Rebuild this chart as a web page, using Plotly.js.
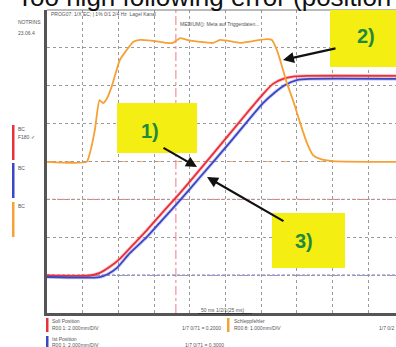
<!DOCTYPE html>
<html><head><meta charset="utf-8">
<script src="https://cdn.plot.ly/plotly-3.0.1.min.js"></script>
<style>html,body{margin:0;padding:0;background:#fff;}#chart{width:396px;height:347px;}</style>
</head><body><div id="chart"></div>
<script>
// ---- data (time and amplitude in scope divisions) ----
const followErrTime = [0, 1.11, 1.20, 1.34, 1.47, 1.57, 1.67, 1.81, 2.04, 2.23, 2.42, 2.61, 3.17, 3.36, 3.52, 3.73, 3.92, 4.29, 4.65, 4.85, 5.22, 5.41, 5.77, 6.16, 6.30, 6.44, 6.53, 6.72, 6.89, 7.09, 7.28, 7.45, 7.65, 8.01, 9.78];
const followErrVal  = [3.99, 3.99, 4.22, 4.83, 5.62, 5.54, 5.65, 5.97, 6.68, 6.94, 7.16, 7.21, 7.16, 7.13, 7.13, 7.26, 7.21, 7.16, 7.13, 7.21, 7.16, 7.13, 7.18, 7.23, 7.21, 6.94, 6.68, 6.07, 5.62, 5.02, 4.49, 4.17, 4.07, 4.01, 3.99];

const setPosTime = [0, 1.20, 1.48, 1.76, 2.04, 2.41, 2.80, 3.25, 3.73, 4.65, 5.60, 6.05, 6.33, 6.61, 6.89, 7.28, 9.78];
const setPosVal  = [0.99, 0.99, 1.06, 1.22, 1.43, 1.80, 2.19, 2.67, 3.17, 4.20, 5.28, 5.78, 6.05, 6.18, 6.24, 6.26, 6.26];

const actPosTime = [0, 1.48, 1.71, 1.96, 2.32, 2.80, 3.25, 3.73, 4.29, 5.13, 6.05, 6.39, 6.67, 7.00, 7.37, 9.78];
const actPosVal  = [0.95, 0.95, 1.03, 1.19, 1.58, 2.01, 2.48, 2.98, 3.59, 4.51, 5.54, 5.83, 6.02, 6.15, 6.18, 6.18];

const triggerTime = 3.61;
const refLevels = {setPos: 3, actPos: 1, followErr: 4};

const titleText = "Too high following error (position control)";
const calloutLabels = ["1)", "2)", "3)"];
const legendNames = ["Soll Position", "Ist Position", "Schleppfehler"];
const legendScales = ["R00 1: 2.000mm/DIV", "R00 1: 2.000mm/DIV", "R00 8: 1.000mm/DIV"];
const legendValues = ["1/7 0/71 = 0.2000", "1/7 0/71 = 0.3000", "1/7 0/2"];

// ---- layout helpers ----
const W = 396, H = 347, L = 47, T = 10, B = 34;
const PW = W - L, PH = H - T - B;
const px = x => (x - L) / PW;
const py = y => (H - B - y) / PH;

const RED = '#e8303a', BLUE = '#3a46c4', ORANGE = '#f7a035', YEL = '#f4ee12', GREEN = '#1d8a3e';

const traces = [
  {x: setPosTime, y: setPosVal, mode: 'lines', line: {color: 'rgba(240,120,130,0.35)', width: 3.6, shape: 'spline', smoothing: 0.6}, hoverinfo: 'skip'},
  {x: actPosTime, y: actPosVal, mode: 'lines', line: {color: 'rgba(120,130,220,0.35)', width: 3.6, shape: 'spline', smoothing: 0.6}, hoverinfo: 'skip'},
  {x: setPosTime, y: setPosVal, mode: 'lines', name: legendNames[0], line: {color: RED, width: 1.8, shape: 'spline', smoothing: 0.6}},
  {x: actPosTime, y: actPosVal, mode: 'lines', name: legendNames[1], line: {color: BLUE, width: 1.8, shape: 'spline', smoothing: 0.6}},
  {x: followErrTime, y: followErrVal, mode: 'lines', name: legendNames[2], line: {color: ORANGE, width: 1.8, shape: 'spline', smoothing: 0.5}}
];

const shapes = [
  // reference lines
  {type: 'line', xref: 'x', yref: 'paper', x0: triggerTime, x1: triggerTime, y0: 0, y1: 1, layer: 'between', line: {color: '#f07a80', width: 1, dash: 'dashdot'}},
  {type: 'line', xref: 'paper', yref: 'y', x0: 0, x1: 1, y0: refLevels.setPos, y1: refLevels.setPos, layer: 'between', line: {color: '#f08a90', width: 1.2, dash: '3px,2px'}},
  {type: 'line', xref: 'paper', yref: 'y', x0: 0, x1: 1, y0: refLevels.actPos, y1: refLevels.actPos, layer: 'between', line: {color: '#7a7ad8', width: 1.2, dash: '3px,2px'}},
  {type: 'line', xref: 'paper', yref: 'y', x0: 0, x1: 1, y0: refLevels.followErr, y1: refLevels.followErr, layer: 'between', line: {color: '#f7b070', width: 1, dash: 'dashdot'}},
  // frame
  {type: 'line', xref: 'paper', yref: 'paper', x0: 0, x1: 1, y0: 1, y1: 1, layer: 'above', line: {color: '#777', width: 1}},
  // callout boxes
  {type: 'rect', xref: 'paper', yref: 'paper', x0: px(117), x1: px(197), y0: py(153), y1: py(103), fillcolor: YEL, line: {width: 0}, layer: 'above'},
  {type: 'rect', xref: 'paper', yref: 'paper', x0: px(330), x1: px(400), y0: py(67), y1: py(10), fillcolor: YEL, line: {width: 0}, layer: 'above'},
  {type: 'rect', xref: 'paper', yref: 'paper', x0: px(272), x1: px(345), y0: py(268), y1: py(213), fillcolor: YEL, line: {width: 0}, layer: 'above'},
  // channel markers on the left
  {type: 'rect', xref: 'paper', yref: 'paper', x0: px(12), x1: px(14.5), y0: py(160), y1: py(125), fillcolor: RED, line: {width: 0}},
  {type: 'rect', xref: 'paper', yref: 'paper', x0: px(12), x1: px(14.5), y0: py(198), y1: py(163), fillcolor: BLUE, line: {width: 0}},
  {type: 'rect', xref: 'paper', yref: 'paper', x0: px(12), x1: px(14.5), y0: py(237), y1: py(202), fillcolor: ORANGE, line: {width: 0}},
  // legend markers at the bottom
  {type: 'rect', xref: 'paper', yref: 'paper', x0: px(46), x1: px(48.5), y0: py(332), y1: py(318), fillcolor: RED, line: {width: 0}},
  {type: 'rect', xref: 'paper', yref: 'paper', x0: px(46), x1: px(48.5), y0: py(349), y1: py(336), fillcolor: BLUE, line: {width: 0}},
  {type: 'rect', xref: 'paper', yref: 'paper', x0: px(227), x1: px(229.5), y0: py(332), y1: py(318), fillcolor: ORANGE, line: {width: 0}},
  // underline of time-base label
  {type: 'line', xref: 'paper', yref: 'paper', x0: px(198), x1: px(252), y0: py(313.5), y1: py(313.5), line: {color: '#333', width: 1}}
];

const tiny = (text, x, y, extra) => Object.assign({text: text, xref: 'paper', yref: 'paper', x: px(x), y: py(y), xanchor: 'left', yanchor: 'middle', showarrow: false, font: {family: 'Liberation Sans, Arial', size: 5, color: '#555'}}, extra || {});
const callout = (text, x, y) => ({text: '<b>' + text + '</b>', xref: 'paper', yref: 'paper', x: px(x), y: py(y), xanchor: 'center', yanchor: 'middle', showarrow: false, font: {family: 'Liberation Sans, Arial', size: 20, color: GREEN}});
const arrow = (hx, hy, tx, ty) => ({text: '', xref: 'paper', yref: 'paper', x: px(hx), y: py(hy), ax: tx - hx, ay: ty - hy, showarrow: true, arrowhead: 2, arrowsize: 1, arrowwidth: 2.2, arrowcolor: '#111', standoff: 0});

const annotations = [
  {text: titleText, xref: 'paper', yref: 'paper', x: px(15), y: 1, xanchor: 'left', yanchor: 'bottom', yshift: -4, showarrow: false, font: {family: 'Liberation Sans, Arial', size: 26, color: '#111'}},
  tiny('PROG07: 1/X EC; | 1% 0/1 2/4 Hz  Lagel Kanal', 49, 14),
  tiny('MEDIUM(): Meta auf Triggerdaten...', 178, 24),
  tiny('NOTRINS', 16, 22), tiny('23.06.4', 16, 33),
  tiny('BC', 16, 129), tiny('F180 ✓', 16, 137),
  tiny('BC', 16, 168), tiny('BC', 16, 206),
  tiny('50 ms 1/2/1(25 ms)', 199, 310),
  tiny(legendNames[0], 50, 321), tiny(legendScales[0], 50, 328), tiny(legendValues[0], 180, 328),
  tiny(legendNames[1], 50, 339), tiny(legendScales[1], 50, 345), tiny(legendValues[1], 183, 345),
  tiny(legendNames[2], 232, 321), tiny(legendScales[2], 232, 328), tiny(legendValues[2], 377, 328),
  callout(calloutLabels[0], 150, 131),
  callout(calloutLabels[1], 366, 36),
  callout(calloutLabels[2], 304, 241),
  arrow(197, 167, 162, 147),
  arrow(283, 60, 337, 48),
  arrow(207, 177, 285, 222)
];

const layout = {
  width: W, height: H,
  margin: {l: L, r: 0, t: T, b: B, pad: 0},
  paper_bgcolor: '#fff', plot_bgcolor: '#fff',
  showlegend: false,
  xaxis: {range: [0, PW / 35.7], dtick: 1, tick0: 0, showticklabels: false, ticks: '', zeroline: false,
          showgrid: true, gridcolor: '#9a9a9a', gridwidth: 1, griddash: '3px,3px',
          showline: true, linecolor: '#555', linewidth: 3},
  yaxis: {range: [0, 8], dtick: 1, tick0: 0, showticklabels: false, ticks: '', zeroline: false,
          showgrid: true, gridcolor: '#9a9a9a', gridwidth: 1, griddash: '3px,3px',
          showline: true, linecolor: '#555', linewidth: 3},
  shapes: shapes,
  annotations: annotations
};

Plotly.newPlot('chart', traces, layout, {staticPlot: true, displayModeBar: false});
</script>
</body></html>
